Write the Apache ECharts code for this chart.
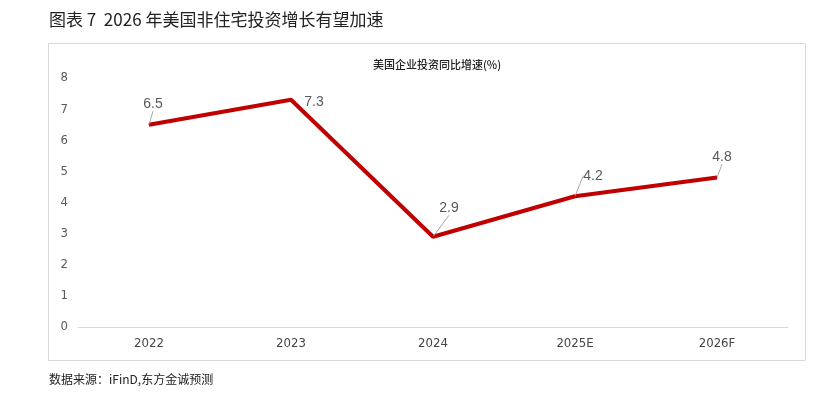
<!DOCTYPE html>
<html>
<head>
<meta charset="utf-8">
<script src="https://cdn.jsdelivr.net/npm/echarts@6/dist/echarts.min.js"></script>
<style>
html,body{margin:0;padding:0;background:#fff;}
#chart{width:832px;height:399px;}
</style>
</head>
<body>
<div id="chart"></div>
<script>
// 美国企业投资同比增速(%)
const years = ["2022", "2023", "2024", "2025E", "2026F"];
const growth = [6.5, 7.3, 2.9, 4.2, 4.8];
const yTicks = [0, 1, 2, 3, 4, 5, 6, 7, 8];

// how far each value label was dragged from its point in the original
const labelShift = [[4, -13], [23, 10], [16, -21], [18, -13], [5, -13]];

const font = "'Noto Sans CJK SC', 'DejaVu Sans', sans-serif";

const chart = echarts.init(document.getElementById("chart"));

chart.setOption({
    animation: false,
    title: [{
        text: "图表 7  2026 年美国非住宅投资增长有望加速",
        left: 44,
        top: 6,
        textStyle: {fontFamily: font, fontSize: 17, fontWeight: "normal", color: "#222"}
    }, {
        text: "美国企业投资同比增速(%)",
        left: 432,
        textAlign: "center",
        top: 54,
        textStyle: {fontFamily: font, fontSize: 11, fontWeight: 500, color: "#222"}
    }, {
        text: "数据来源：iFinD,东方金诚预测",
        left: 44,
        top: 368,
        textStyle: {fontFamily: font, fontSize: 12, fontWeight: "normal", color: "#222"}
    }],
    graphic: [{
        type: "rect",
        shape: {x: 48.5, y: 43.5, width: 757, height: 317},
        style: {fill: "none", stroke: "#d9d9d9", lineWidth: 1},
        silent: true
    }],
    grid: {left: 78, right: 44, top: 78, bottom: 72},
    xAxis: {
        type: "category",
        data: years,
        boundaryGap: true,
        axisLine: {lineStyle: {color: "#d9d9d9"}},
        axisTick: {show: false},
        axisLabel: {color: "#444", fontSize: 13, fontFamily: "'DejaVu Sans Condensed', sans-serif", margin: 10}
    },
    yAxis: {
        type: "value",
        min: yTicks[0],
        max: yTicks[yTicks.length - 1],
        interval: 1,
        axisLine: {show: false},
        axisTick: {show: false},
        splitLine: {show: false},
        axisLabel: {color: "#595959", fontSize: 13, fontFamily: "'DejaVu Sans Condensed', sans-serif", margin: 10}
    },
    series: [{
        type: "line",
        data: growth.map((v, i) => ({
            value: v,
            labelLine: {show: i !== 1}
        })),
        symbol: "circle",
        symbolSize: 1,
        itemStyle: {color: "#c00000"},
        lineStyle: {color: "#c00000", width: 4},
        label: {
            show: true,
            position: "top",
            distance: 0,
            color: "#595959",
            fontSize: 14,
            fontFamily: "'Liberation Sans', sans-serif"
        },
        labelLayout: p => ({dx: labelShift[p.dataIndex][0], dy: labelShift[p.dataIndex][1]}),
        labelLine: {show: true, lineStyle: {color: "#a6a6a6", width: 1}}
    }]
});
</script>
</body>
</html>
